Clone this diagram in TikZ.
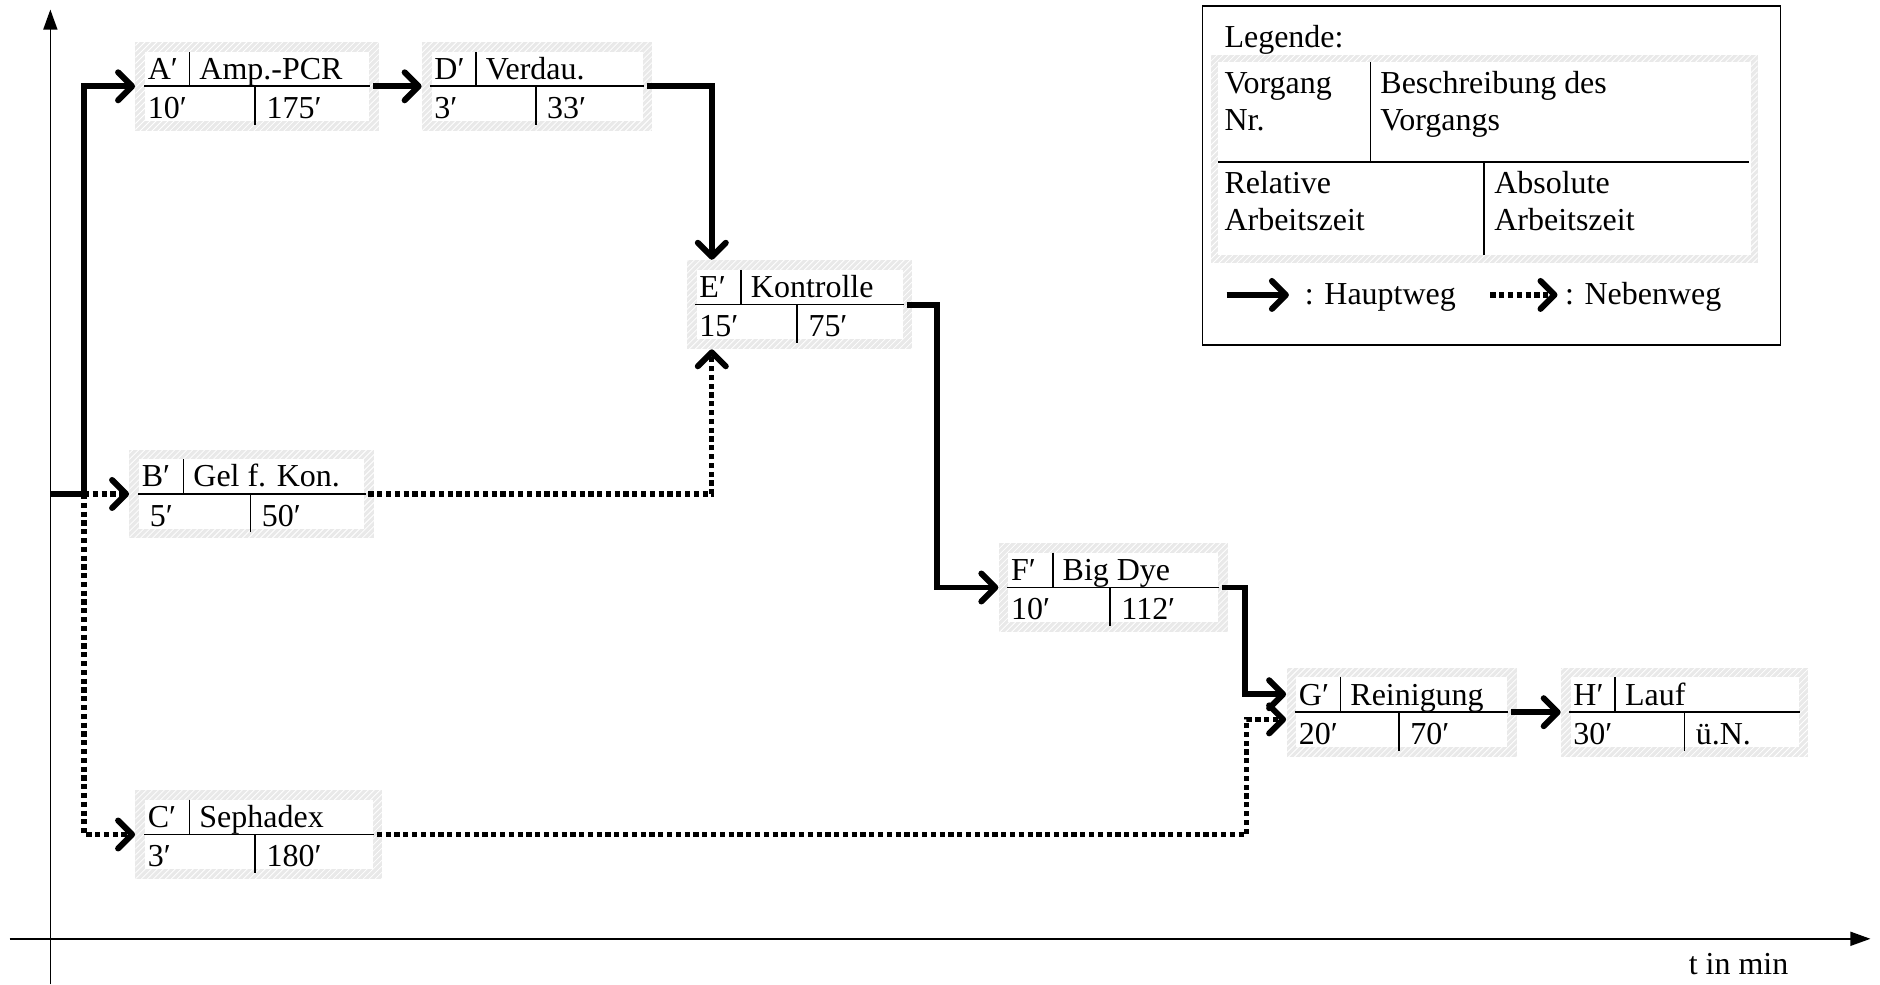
\documentclass[tikz,border=0pt]{standalone}
\usepackage{fontspec}
\setmainfont{Liberation Serif}
\usetikzlibrary{arrows.meta,fit,patterns}

\tikzset{
  hatchframe/.style={fill=gray!17, postaction={pattern=north east lines, pattern color=white}, inner sep=0pt, draw=none},
  thinrule/.style={line width=0.9pt},
  txt/.style={inner sep=0pt, anchor=base west, font=\fontsize{16}{19}\selectfont},
  mainpath/.style={line width=3pt, -{Straight Barb[length=7pt,width=14pt,round]}},
  sidepath/.style={line width=2.6pt, dash pattern=on 2.6pt off 1.8pt, -{Straight Barb[length=7pt,width=14pt,round,line width=3pt]}},
  axisline/.style={line width=0.8pt, -{Triangle[length=10pt,width=7pt]}},
}

% name, L, R, Y, d2, id, desc, rel, abs
\newcommand\taskbox[9]{%
  \node[hatchframe, fit={({#2},{#4-37}) ({#3},{#4+37})}] (#1) {};
  \fill[white] ({#2+8},{#4-29}) rectangle ({#3-8},{#4+29});
  \draw[thinrule] ({#2+7},{#4}) -- ({#3-7},{#4});
  \draw[thinrule] ({#2+45},{#4-29}) -- ({#2+45},{#4});
  \draw[thinrule] ({#5},{#4}) -- ({#5},{#4+32});
  \node[txt] (#1-id) at ({#2+10},{#4-6}) {#6};
  \node[txt] (#1-desc) at ({#2+53},{#4-6}) {#7};
  \node[txt] (#1-rel) at ({#2+10},{#4+27}) {#8};
  \node[txt] (#1-abs) at ({#5+9},{#4+27}) {#9};
}

\begin{document}
\begin{tikzpicture}[x=0.6pt,y=-0.6pt]
\useasboundingbox (0,0) rectangle (1568,821);

% axes
\coordinate (y0) at (42,821);
\coordinate (y1) at (42,8);
\draw[axisline] (y0) -- (y1);
\coordinate (x0) at (8,783);
\coordinate (x1) at (1560,783);
\draw[axisline] (x0) -- (x1);
\node[txt, anchor=base] (tlabel) at (1450,813) {t in min};

% task boxes
\taskbox{A}{113}{316}{72}{213}{A′}{Amp.-PCR}{10′}{175′}
\taskbox{D}{352}{544}{72}{447}{D′}{Verdau.}{3′}{33′}
\taskbox{E}{573}{761}{254}{665}{E′}{Kontrolle}{15′}{75′}
\taskbox{B}{108}{312}{412}{209}{B′}{Gel f. Kon.}{\hspace{0.25em}5′}{50′}
\taskbox{C}{113}{319}{696}{213}{C′}{Sephadex}{3′}{180′}
\taskbox{F}{833}{1024}{490}{926}{F′}{Big Dye}{10′}{112′}
\taskbox{G}{1073}{1265}{594}{1167}{G′}{Reinigung}{20′}{70′}
\taskbox{H}{1302}{1508}{594}{1405}{H′}{Lauf}{30′}{ü.N.}

% connectors
\coordinate (orig) at (42,412);
\coordinate (split) at (70,412);
\draw[sidepath] (split) -- (B.west);
\draw[sidepath] (split) |- (C.west);
\draw[mainpath] (orig) -- (split) |- (A.west);
\draw[mainpath] ([xshift=-3pt]A.east) -- (D.west);
\draw[mainpath] ([xshift=-3pt]D.east) -| ([xshift=12.6pt]E.north west);
\draw[sidepath] ([xshift=-3pt]B.east) -| ([xshift=12.6pt]E.south west);
\draw[mainpath] ([xshift=-3pt]E.east) -- ++(25,0) |- (F.west);
\draw[mainpath] ([xshift=-3pt]F.east) -- ++(19,0) |- ([shift={(0,-15)}]G.west);
\draw[sidepath] ([xshift=-3pt]C.east) -| ([shift={(-33,6)}]G.west) -- ([shift={(0,6)}]G.west);
\draw[mainpath] ([xshift=-3pt]G.east) -- (H.west);

% legend
\node[draw, line width=0.9pt, inner sep=0pt, fit={(1003,5) (1485,288)}] (legend) {};
\node[txt] (leg-title) at (1021,40) {Legende:};
\node[hatchframe, fit={(1010,46) (1466,219)}] (leg-frame) {};
\fill[white] (1016,52) rectangle (1460,213);
\draw[thinrule] (1143,52) -- (1143,135);
\draw[thinrule] (1016,135) -- (1459,135);
\draw[thinrule] (1238,135) -- (1238,213);
\node[txt] (leg-v1) at (1021,78) {Vorgang};
\node[txt] (leg-v2) at (1021,109) {Nr.};
\node[txt] (leg-b1) at (1151,78) {Beschreibung des};
\node[txt] (leg-b2) at (1151,109) {Vorgangs};
\node[txt] (leg-r1) at (1021,161) {Relative};
\node[txt] (leg-r2) at (1021,192) {Arbeitszeit};
\node[txt] (leg-a1) at (1246,161) {Absolute};
\node[txt] (leg-a2) at (1246,192) {Arbeitszeit};
\coordinate (hw-a) at (1023,246);
\coordinate (hw-b) at (1075,246);
\draw[mainpath] (hw-a) -- (hw-b);
\node[txt] (hw-t) at (1088,254) {: Hauptweg};
\coordinate (nw-a) at (1243,246);
\coordinate (nw-b) at (1299,246);
\draw[sidepath] (nw-a) -- (nw-b);
\node[txt] (nw-t) at (1305,254) {: Nebenweg};
\end{tikzpicture}
\end{document}
